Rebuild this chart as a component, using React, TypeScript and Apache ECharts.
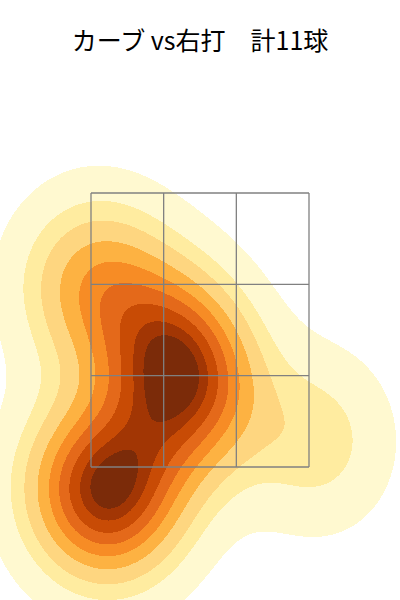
import React, { useEffect, useRef } from "react";
import * as echarts from "echarts";

// ---- data ----
const chartTitle = "カーブ vs右打　計11球";
// pitch locations (horizontal cm from plate centre, height cm)
const pitchX = [-6.4, -3.64, -2.99, -18.88, -21.52, -16.19, -21.88, -16.51, 21.34, -1.31, -12.24];
const pitchZ = [68.44, 65.01, 59.88, 40.48, 42.09, 37.54, 77.53, 78.98, 49.83, 56.73, 42.17];
// strike zone borders
const zoneX = [-20, -6.667, 6.667, 20];
const zoneZ = [45, 61.667, 78.333, 95];
// iso-proportion levels (10 levels, thresh 0.05)
const isoProps = [0.05, 0.1556, 0.2611, 0.3667, 0.4722, 0.5778, 0.6833, 0.7889, 0.8944, 1.0];
const bwAdjust = 1.1;
const bandColors = ["#fff9d0", "#ffeca0", "#fed680", "#fdb242", "#f78c25", "#e4691a", "#c84b05", "#a23604", "#7b2b09"];

// ---- layout ----
const W = 400;
const H = 600;
const ZONE_LEFT = 91;
const ZONE_TOP = 193;
const ZONE_W = 218;
const ZONE_H = 274;

function buildKde(xs: number[], zs: number[]) {
  const n = xs.length;
  let mx = 0, mz = 0;
  for (let i = 0; i < n; i++) { mx += xs[i]; mz += zs[i]; }
  mx /= n; mz /= n;
  let sxx = 0, szz = 0, sxz = 0;
  for (let i = 0; i < n; i++) {
    const dx = xs[i] - mx, dz = zs[i] - mz;
    sxx += dx * dx; szz += dz * dz; sxz += dx * dz;
  }
  sxx /= n - 1; szz /= n - 1; sxz /= n - 1;
  const f = Math.pow(n, -1 / 6) * bwAdjust;
  const cxx = sxx * f * f, czz = szz * f * f, cxz = sxz * f * f;
  const det = cxx * czz - cxz * cxz;
  const ixx = czz / det, izz = cxx / det, ixz = -cxz / det;
  const norm = 1 / (n * 2 * Math.PI * Math.sqrt(det));
  const dens = (x: number, z: number) => {
    let s = 0;
    for (let i = 0; i < n; i++) {
      const dx = x - xs[i], dz = z - zs[i];
      s += Math.exp(-0.5 * (ixx * dx * dx + 2 * ixz * dx * dz + izz * dz * dz));
    }
    return s * norm;
  };
  return { dens, bwx: Math.sqrt(cxx), bwz: Math.sqrt(czz) };
}

function computeLevels(kde: ReturnType<typeof buildKde>, xs: number[], zs: number[]) {
  const gs = 200, cut = 3;
  const x0 = Math.min(...xs) - cut * kde.bwx, x1 = Math.max(...xs) + cut * kde.bwx;
  const z0 = Math.min(...zs) - cut * kde.bwz, z1 = Math.max(...zs) + cut * kde.bwz;
  const vals: number[] = [];
  for (let j = 0; j < gs; j++) {
    const z = z0 + ((z1 - z0) * j) / (gs - 1);
    for (let i = 0; i < gs; i++) {
      const x = x0 + ((x1 - x0) * i) / (gs - 1);
      vals.push(kde.dens(x, z));
    }
  }
  const sorted = vals.slice().sort((a, b) => b - a);
  let total = 0;
  for (const v of sorted) total += v;
  const cum: number[] = [];
  let acc = 0;
  for (const v of sorted) { acc += v; cum.push(acc / total); }
  return isoProps.map((p) => {
    const target = 1 - p;
    let lo = 0, hi = cum.length;
    while (lo < hi) { const mid = (lo + hi) >> 1; if (cum[mid] < target) lo = mid + 1; else hi = mid; }
    return sorted[Math.min(lo, sorted.length - 1)];
  });
}

function buildRuns() {
  const kde = buildKde(pitchX, pitchZ);
  const levels = computeLevels(kde, pitchX, pitchZ);
  const xMin = zoneX[0], xMax = zoneX[zoneX.length - 1];
  const zMin = zoneZ[0], zMax = zoneZ[zoneZ.length - 1];
  const sx = (xMax - xMin) / ZONE_W;
  const sz = (zMax - zMin) / ZONE_H;
  const toX = (px: number) => xMin + (px - ZONE_LEFT) * sx;
  const toZ = (py: number) => zMax - (py - ZONE_TOP) * sz;
  const runs: number[][] = [];
  for (let r = 0; r < H; r++) {
    const z = toZ(r + 0.5);
    let cur = -1, start = 0;
    for (let c = 0; c <= W; c++) {
      let b = -1;
      if (c < W) {
        const d = kde.dens(toX(c + 0.5), z);
        for (let k = 0; k < levels.length - 1; k++) if (d >= levels[k]) b = k;
      }
      if (b !== cur) {
        if (cur >= 0) runs.push([toX(start), toX(c), toZ(r), toZ(r + 1), cur]);
        cur = b; start = c;
      }
    }
  }
  return runs;
}

export default function App() {
  const ref = useRef<HTMLDivElement>(null);
  useEffect(() => {
    if (!ref.current) return;
    const chart = echarts.init(ref.current, undefined, { renderer: "svg" });
    const runs = buildRuns();
    const zoneLines: number[][] = [];
    for (const x of zoneX) zoneLines.push([x, zoneZ[0], x, zoneZ[zoneZ.length - 1]]);
    for (const z of zoneZ) zoneLines.push([zoneX[0], z, zoneX[zoneX.length - 1], z]);
    chart.setOption({
      animation: false,
      title: {
        text: chartTitle,
        left: "center",
        top: 21,
        textStyle: { fontFamily: "Noto Sans CJK JP", fontSize: 25, fontWeight: "normal", color: "#000" },
      },
      grid: { left: ZONE_LEFT, top: ZONE_TOP, width: ZONE_W, height: ZONE_H },
      xAxis: { type: "value", min: zoneX[0], max: zoneX[zoneX.length - 1], show: false },
      yAxis: { type: "value", min: zoneZ[0], max: zoneZ[zoneZ.length - 1], show: false },
      series: [
        {
          type: "custom",
          data: runs,
          clip: false,
          silent: true,
          progressive: 0,
          z: 1,
          encode: { x: [0, 1], y: [2, 3] },
          renderItem: (_p: any, api: any) => {
            const a = api.coord([api.value(0), api.value(2)]);
            const b = api.coord([api.value(1), api.value(3)]);
            const x0 = Math.round(a[0]), x1 = Math.round(b[0]);
            const y0 = Math.round(a[1]), y1 = Math.round(b[1]);
            return {
              type: "rect",
              shape: { x: x0, y: y0, width: x1 - x0, height: y1 - y0 },
              style: { fill: bandColors[api.value(4)] },
            };
          },
        },
        {
          type: "custom",
          data: zoneLines,
          clip: false,
          silent: true,
          z: 5,
          encode: { x: [0, 2], y: [1, 3] },
          renderItem: (_p: any, api: any) => {
            const a = api.coord([api.value(0), api.value(1)]);
            const b = api.coord([api.value(2), api.value(3)]);
            return {
              type: "line",
              shape: { x1: a[0], y1: a[1], x2: b[0], y2: b[1] },
              style: { stroke: "#808080", lineWidth: 1.3 },
            };
          },
        },
      ],
    });
    return () => chart.dispose();
  }, []);
  return <div ref={ref} style={{ position: "absolute", left: 0, top: 0, width: W, height: H }} />;
}
